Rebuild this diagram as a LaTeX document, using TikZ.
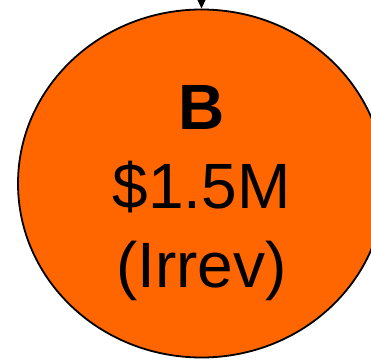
\documentclass[tikz,border=0pt]{standalone}
\usepackage{fontspec}
\setmainfont{Liberation Sans}
\usetikzlibrary{arrows.meta,shapes}
\definecolor{orangeB}{HTML}{FF6600}
\tikzset{
  budgetnode/.style = {ellipse, draw=black, fill=orangeB, line width=1.8pt,
    inner sep=0pt, minimum width=367pt, minimum height=348pt},% noeud du budget
  budgettext/.style = {align=center, inner sep=0pt,
    font=\fontsize{64}{79}\selectfont}% texte du noeud
}
\begin{document}
\begin{tikzpicture}[x=1pt,y=1pt,>={Triangle[width=8pt,length=9pt]}]
\useasboundingbox (0,0) rectangle (371,359);
\node [budgetnode] (B) at (201.5,175.5) {};
\node [budgettext] (Btext) at ([yshift=-10pt]B.center)
  {\textbf{B}\\\$1.5M\\(Irrev)};
\coordinate (in) at (201.5,400);
\draw [->, line width=1.5pt] (in) -- (B.north);
\end{tikzpicture}
\end{document}
